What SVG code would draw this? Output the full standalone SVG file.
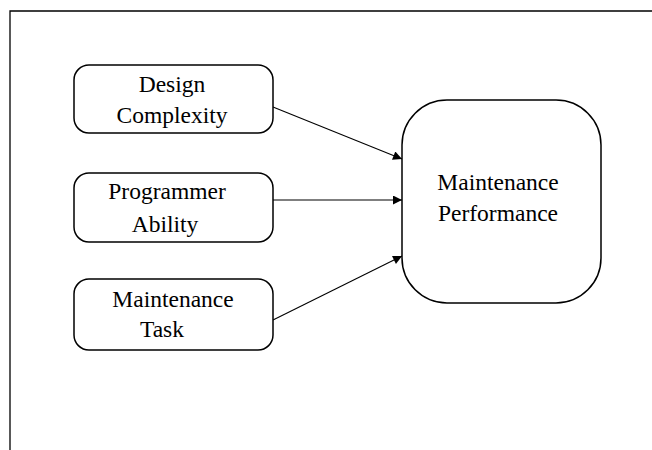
<svg xmlns="http://www.w3.org/2000/svg" width="652" height="450" viewBox="0 0 652 450">
<defs>
<style>
.frame{stroke:#000;stroke-width:1.3;fill:none}
.box{fill:#fff;stroke:#000;stroke-width:1.5}
.lbl{font-family:"Liberation Serif","Times New Roman",serif;font-size:23.5px;fill:#000;text-anchor:middle}
.conn{stroke:#000;stroke-width:1.1;fill:none;marker-end:url(#ah)}
</style>
<marker id="ah" viewBox="0 0 10 10" refX="10" refY="5" markerWidth="10" markerHeight="9" markerUnits="userSpaceOnUse" orient="auto">
<path d="M0,0 L10,5 L0,10 z" fill="#000"/>
</marker>
</defs>
<rect width="652" height="450" fill="#fff"/>
<path class="frame" d="M10,450 L10,11 L652,11"/>
<g id="connectors">
<line class="conn" x1="273" y1="107" x2="402" y2="159"/>
<line class="conn" x1="273" y1="200" x2="402" y2="200"/>
<line class="conn" x1="273" y1="320" x2="402" y2="256"/>
</g>
<g id="design-complexity">
<rect class="box" x="74" y="65" width="199" height="68" rx="15" ry="15"/>
<text class="lbl" x="172" y="92">Design</text>
<text class="lbl" x="172" y="123">Complexity</text>
</g>
<g id="programmer-ability">
<rect class="box" x="74" y="173" width="199" height="69" rx="15" ry="15"/>
<text class="lbl" x="167" y="199">Programmer</text>
<text class="lbl" x="165" y="232">Ability</text>
</g>
<g id="maintenance-task">
<rect class="box" x="74" y="279" width="199" height="71" rx="15" ry="15"/>
<text class="lbl" x="173" y="307">Maintenance</text>
<text class="lbl" x="162" y="337">Task</text>
</g>
<g id="maintenance-performance">
<rect class="box" x="402" y="100" width="199" height="203" rx="45" ry="45"/>
<text class="lbl" x="498" y="190">Maintenance</text>
<text class="lbl" x="498" y="221">Performance</text>
</g>
</svg>
